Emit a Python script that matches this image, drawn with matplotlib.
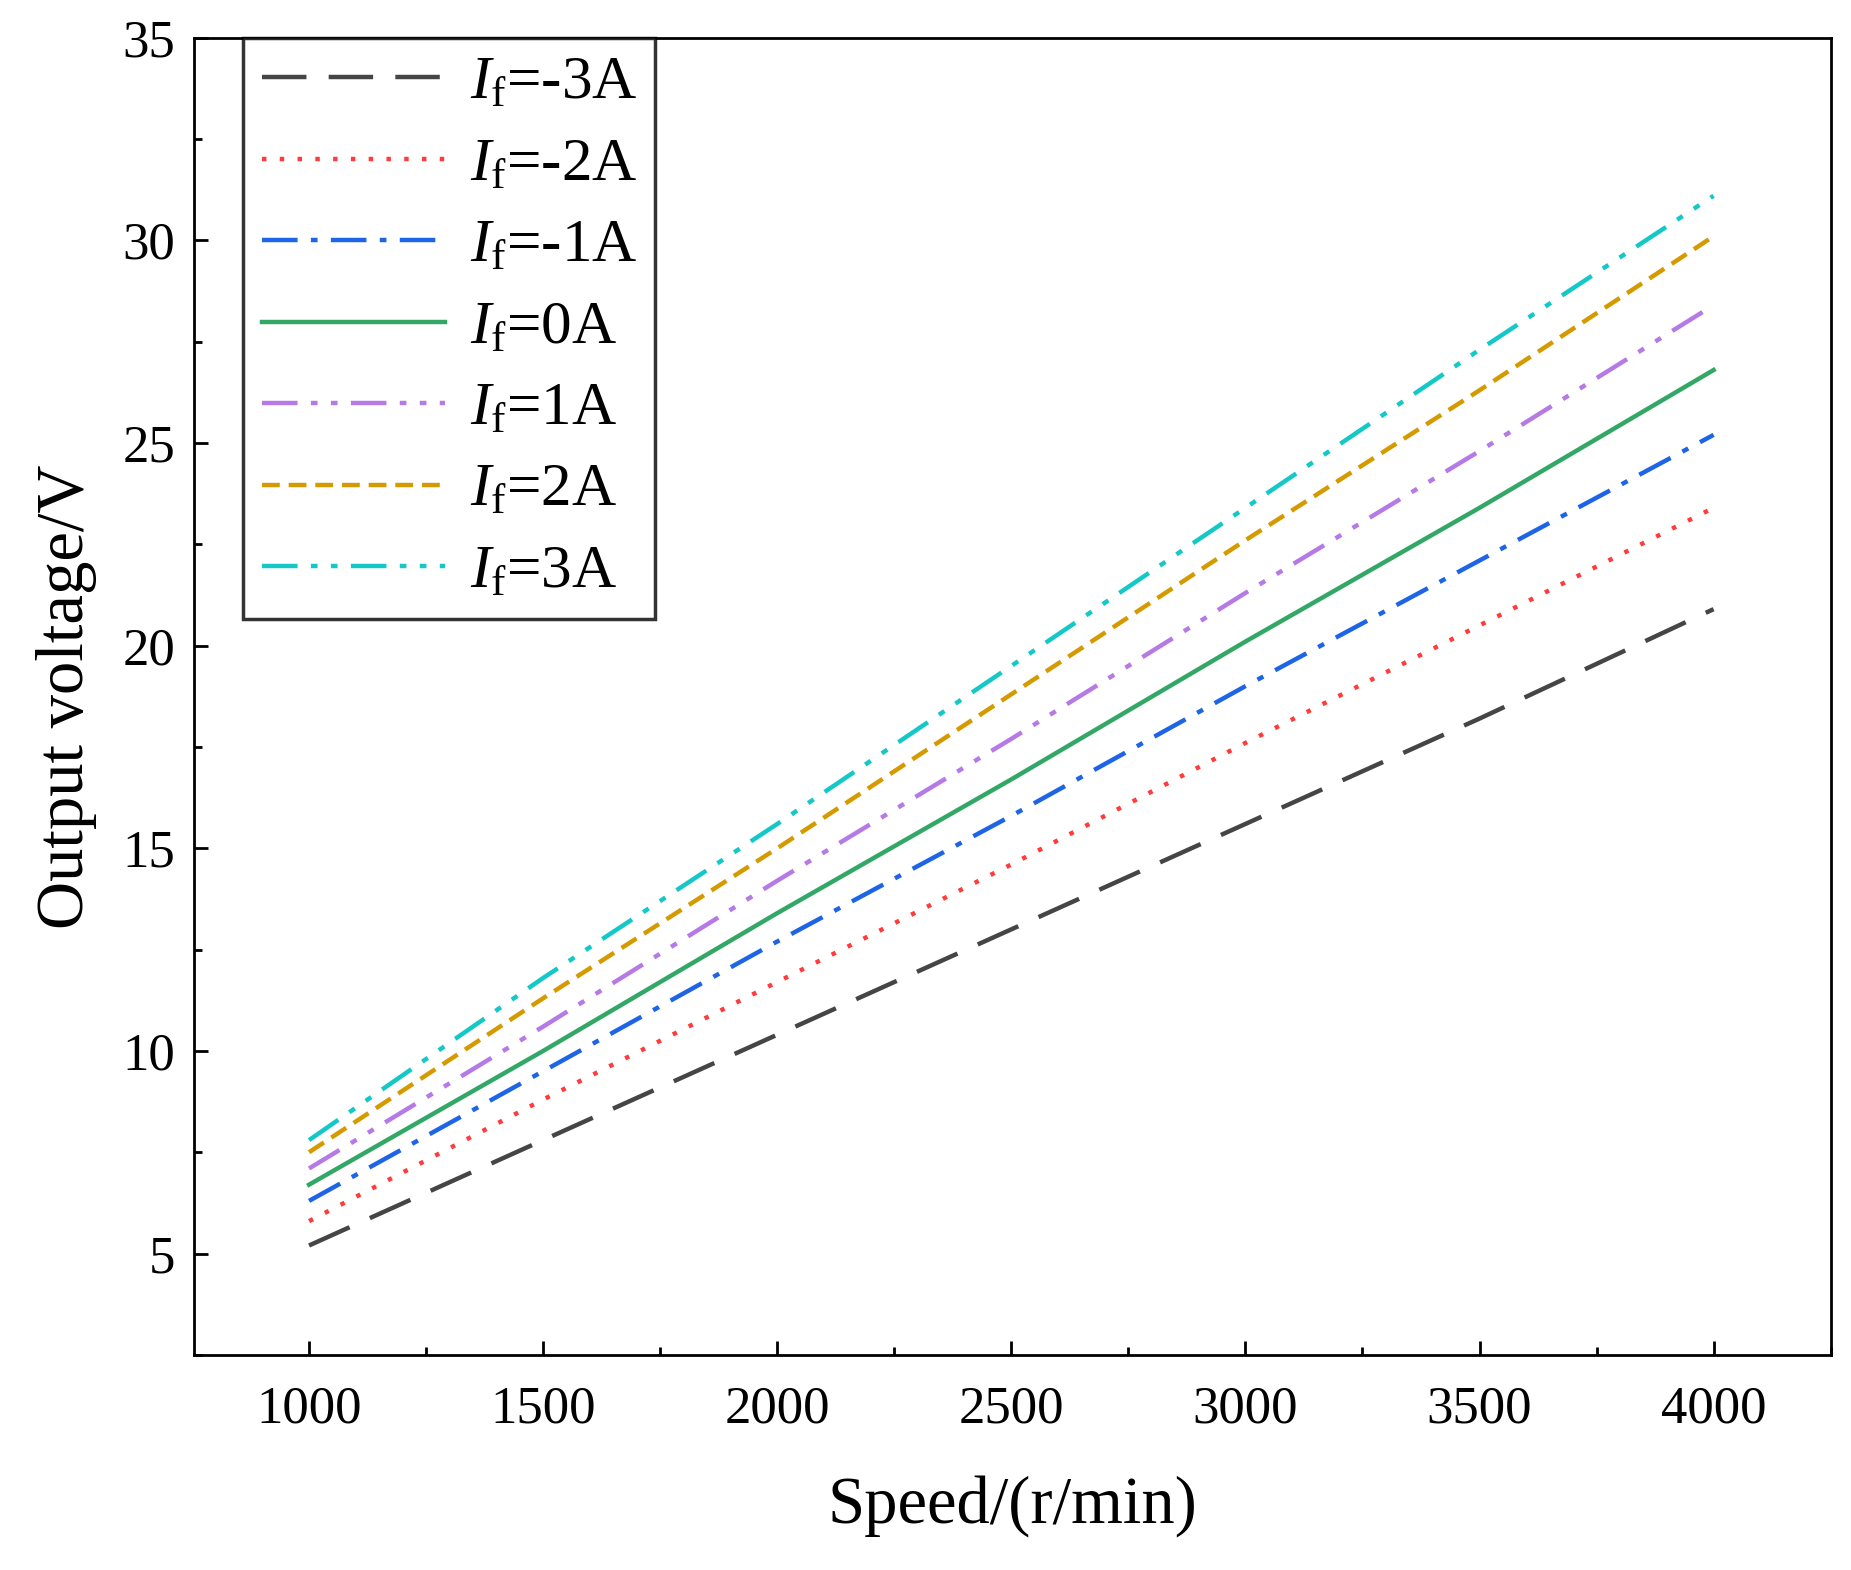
import matplotlib
matplotlib.use("Agg")
import matplotlib.pyplot as plt
from matplotlib.ticker import MultipleLocator

plt.rcParams["font.family"] = "Liberation Serif"
plt.rcParams["mathtext.fontset"] = "custom"
plt.rcParams["mathtext.rm"] = "Liberation Serif"
plt.rcParams["mathtext.it"] = "Liberation Serif:italic"

speed = [1000, 1500, 2000, 2500, 3000, 3500, 4000]
labels = ["-3A", "-2A", "-1A", "0A", "1A", "2A", "3A"]
v_m3 = [5.2, 7.8, 10.4, 13.0, 15.6, 18.2, 20.9]
v_m2 = [5.8, 8.8, 11.7, 14.6, 17.6, 20.5, 23.4]
v_m1 = [6.3, 9.5, 12.7, 15.8, 19.0, 22.1, 25.2]
v_0 = [6.7, 10.0, 13.4, 16.7, 20.1, 23.4, 26.8]
v_p1 = [7.1, 10.6, 14.2, 17.7, 21.3, 24.8, 28.4]
v_p2 = [7.5, 11.3, 15.0, 18.8, 22.6, 26.3, 30.1]
v_p3 = [7.8, 11.8, 15.6, 19.5, 23.4, 27.3, 31.1]
series = [v_m3, v_m2, v_m1, v_0, v_p1, v_p2, v_p3]

colors = ["#454545", "#ff3b3b", "#1e64e6", "#33a866", "#b57ae6", "#d49a00", "#14c8c8"]
styles = [(0, (10, 5)), (0, (1, 3)), (0, (8, 3, 1.5, 3)), "-", (0, (8, 3, 1.5, 3, 1.5, 3)),
          (0, (4, 2)), (0, (8, 3, 1.5, 3, 1.5, 3))]

fig = plt.figure(figsize=(18.51, 15.70), dpi=100)
ax = fig.add_axes([0.105, 0.137, 0.884, 0.839])
for y, lab, c, ls in zip(series, labels, colors, styles):
    ax.plot(speed, y, color=c, linestyle=ls, linewidth=3.2, label=r"$I_\mathrm{f}$=" + lab)

ax.set_xlim(755, 4250)
ax.set_ylim(2.5, 35)
ax.xaxis.set_minor_locator(MultipleLocator(250))
ax.yaxis.set_major_locator(MultipleLocator(5))
ax.yaxis.set_minor_locator(MultipleLocator(2.5))
ax.set_xticks(range(1000, 4001, 500))
ax.set_yticks(range(5, 36, 5))
ax.tick_params(which="both", direction="in", width=2, labelsize=38)
ax.tick_params(axis="x", pad=22)
ax.tick_params(axis="y", pad=14)
ax.tick_params(which="major", length=10)
ax.tick_params(which="minor", length=6)
for s in ax.spines.values():
    s.set_linewidth(2)
ax.set_xlabel("Speed/(r/min)", fontsize=48, labelpad=30)
ax.set_ylabel("Output voltage/V", fontsize=48, labelpad=18)
leg = ax.legend(loc="upper left", bbox_to_anchor=(0.03, 1.0), fontsize=44, frameon=True,
                fancybox=False, edgecolor="black", borderaxespad=0, handlelength=3.0,
                labelspacing=0.42, borderpad=0.3, handletextpad=0.4)
leg.get_frame().set_linewidth(2.5)
fig.savefig("out.png", dpi=100)
